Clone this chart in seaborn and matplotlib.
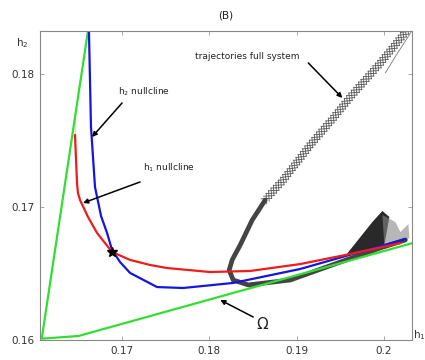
import matplotlib
matplotlib.use("Agg")
import matplotlib.pyplot as plt
import matplotlib.patheffects as pe
import seaborn as sns
import pandas as pd

sns.set_style("white")
plt.rcParams['font.family'] = ['DejaVu Sans']

# ---- data ----
omega_x = [0.1665, 0.1608, 0.1650, 0.2040]
omega_y = [0.1850, 0.1601, 0.1603, 0.16742]

h2_x = [0.16615, 0.16644, 0.16690, 0.16760, 0.16828, 0.16885, 0.16977, 0.17092, 0.17401, 0.17700, 0.18273, 0.19041, 0.20245]
h2_y = [0.18500, 0.17602, 0.17150, 0.16930, 0.16805, 0.16677, 0.16586, 0.16504, 0.16398, 0.16391, 0.16429, 0.16534, 0.16759]

h1_x = [0.16461, 0.16461, 0.16484, 0.16495, 0.16518, 0.16610, 0.16713, 0.16885, 0.17092, 0.17321, 0.17516, 0.18009, 0.18468, 0.19041, 0.19557, 0.20188]
h1_y = [0.17707, 0.17376, 0.17180, 0.17105, 0.17053, 0.16925, 0.16805, 0.16662, 0.16602, 0.16564, 0.16541, 0.16511, 0.16519, 0.16571, 0.16639, 0.16729]

traj_up_x = [0.20339, 0.20211, 0.19959, 0.19615, 0.19420, 0.19156, 0.18846, 0.18640]
traj_up_y = [0.18391, 0.18286, 0.18083, 0.17827, 0.17669, 0.17466, 0.17203, 0.17053]
traj_lo_x = [0.18640, 0.18491, 0.18353, 0.18261, 0.18227, 0.18273, 0.18445, 0.18927, 0.19500, 0.19959, 0.20245]
traj_lo_y = [0.17053, 0.16902, 0.16714, 0.16602, 0.16526, 0.16451, 0.16414, 0.16451, 0.16586, 0.16692, 0.16752]

arc_x = [0.20016, 0.20142, 0.20268, 0.20326]
arc_y = [0.18008, 0.18143, 0.18271, 0.18331]

cl_dark_x = [0.19557, 0.19867, 0.19982, 0.20062, 0.20005, 0.19729]
cl_dark_y = [0.16632, 0.16887, 0.16970, 0.16925, 0.16714, 0.16662]
cl_gray_x = [0.19982, 0.20131, 0.20188, 0.20280, 0.20291, 0.20188, 0.20005]
cl_gray_y = [0.16940, 0.16887, 0.16812, 0.16872, 0.16767, 0.16729, 0.16707]

eq_x = [0.16885]
eq_y = [0.16662]

xticks = [0.17, 0.18, 0.19, 0.20]
xtick_labels = ["0.17", "0.18", "0.19", "0.2"]
yticks = [0.16, 0.17, 0.18]
ytick_labels = ["0.16", "0.17", "0.18"]

fig = plt.figure(figsize=(4.25, 3.6), dpi=100)
ax = fig.add_axes([40/425, 1-340/360, 372/425, 309/360])

# trajectories of full system
tk = dict(spacing=2.6, length=1.5, linewidth=0.6, foreground="#555555")
sns.lineplot(x=traj_up_x, y=traj_up_y, sort=False, ax=ax, color="none", lw=0.5,
             path_effects=[pe.withTickedStroke(angle=a, **tk) for a in (45, -45, 135, -135)])
sns.lineplot(x=traj_lo_x, y=traj_lo_y, sort=False, ax=ax, color="#444444", lw=3.4,
             solid_capstyle="round")
sns.lineplot(x=arc_x, y=arc_y, sort=False, ax=ax, color="#777777", lw=0.6)
ax.fill(cl_dark_x, cl_dark_y, color="#111111", alpha=0.9, lw=0)
ax.fill(cl_gray_x, cl_gray_y, color="#888888", alpha=0.6, lw=0)

# nullclines and Omega
sns.lineplot(x=omega_x, y=omega_y, sort=False, ax=ax, color="#33dd33", lw=1.6)
sns.lineplot(x=h2_x, y=h2_y, sort=False, ax=ax, color="#1515e0", lw=1.6)
sns.lineplot(x=h1_x, y=h1_y, sort=False, ax=ax, color="#ee1c1c", lw=1.6)
ax.plot(eq_x, eq_y, marker="*", color="black", ms=7, ls="none")

ax.set_xlim(0.1606, 0.20321)
ax.set_ylim(0.16, 0.18323)
ax.set_xticks(xticks)
ax.set_xticklabels(xtick_labels)
ax.set_yticks(yticks)
ax.set_yticklabels(ytick_labels)
ax.tick_params(direction="in", length=3, width=0.6, colors="#999999", labelcolor="#333333",
               labelsize=7.5, top=True, right=True, bottom=True, left=True, pad=4)
for s in ax.spines.values():
    s.set_color("#888888")
    s.set_linewidth(0.8)

ap = dict(arrowstyle="-|>", color="black", lw=1.1, mutation_scale=7, shrinkA=0, shrinkB=0)
ax.annotate("", xy=(0.19523, 0.17820), xytext=(0.19133, 0.18083), arrowprops=ap)
ax.annotate("", xy=(0.16656, 0.17526), xytext=(0.17000, 0.17782), arrowprops=ap)
ax.annotate("", xy=(0.16553, 0.17030), xytext=(0.17206, 0.17188), arrowprops=ap)
ax.annotate("", xy=(0.18124, 0.16301), xytext=(0.18502, 0.16173), arrowprops=ap)

ax.text(0.17837, 0.18128, "trajectories full system", fontsize=6.5, color="#222222", va="center")
ax.text(0.16954, 0.17865, "h$_2$ nullcline", fontsize=6.5, color="#222222", va="center")
ax.text(0.17241, 0.17293, "h$_1$ nullcline", fontsize=6.5, color="#222222", va="center")
ax.text(0.18606, 0.16113, "\u03a9", fontsize=11, color="#222222", ha="center", va="center")

fig.text(226/425, 1-16/360, "(B)", fontsize=7.5, color="#222222", ha="center", va="center")
fig.text(22/425, 1-43/360, "h$_2$", fontsize=7.5, color="#333333", ha="center", va="center")
fig.text(413/425, 1-335/360, "h$_1$", fontsize=7.5, color="#333333", ha="left", va="center")

fig.savefig("out.png", dpi=100)
